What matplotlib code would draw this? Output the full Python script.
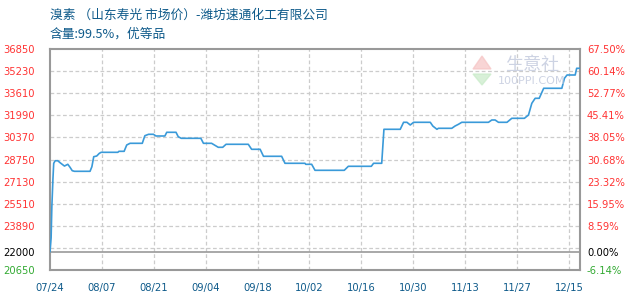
import matplotlib
matplotlib.use("Agg")
import matplotlib.pyplot as plt
from matplotlib.patches import Polygon

plt.rcParams['font.family'] = ['Noto Sans CJK SC', 'DejaVu Sans']

# price series: days since 07/24 and price (yuan/ton)
days = [0, 0.3, 0.5, 0.8, 1.0, 1.4, 2.1, 2.7, 3.9, 4.8, 5.4, 6.0, 6.6, 10.8, 11.3, 11.8,
        12.6, 13.3, 13.8, 18.3, 18.6, 20.0, 20.7, 21.6, 24.9, 25.6, 26.6, 27.9, 28.6, 31.0,
        31.5, 34.0, 34.6, 35.4, 40.7, 41.4, 43.6, 44.5, 45.4, 46.6, 47.5, 53.5, 54.4, 56.7,
        57.6, 62.5, 63.4, 68.8, 69.0, 70.6, 71.5, 79.4, 80.5, 86.7, 87.3, 89.5, 90.1, 94.5,
        95.4, 96.3, 97.2, 98.1, 102.6, 103.3, 104.4, 104.8, 108.4, 109.3, 110.2, 111.1, 118.3,
        119.2, 120.1, 121.0, 123.3, 124.6, 128.0, 129.1, 130.0, 130.9, 132.0, 133.2, 138.1,
        138.8, 139.5, 141.7, 142.1, 143.0]
prices = [22000, 23000, 25300, 27370, 28470, 28660, 28660, 28520, 28270, 28400, 28180, 27930,
          27885, 27885, 28220, 28955, 29006, 29200, 29277, 29277, 29350, 29350, 29813, 29937,
          29937, 30495, 30597, 30597, 30473, 30473, 30744, 30744, 30422, 30304, 30304, 29937,
          29937, 29790, 29645, 29645, 29865, 29865, 29498, 29498, 28985, 28985, 28472, 28472,
          28398, 28398, 27958, 27958, 28252, 28252, 28472, 28472, 30964, 30964, 31477, 31477,
          31280, 31477, 31477, 31200, 30964, 31037, 31037, 31206, 31330, 31477, 31477, 31646,
          31646, 31477, 31477, 31770, 31770, 32012, 32870, 33236, 33236, 33970, 33970, 34700,
          34944, 34944, 35435, 35435]

base = 22000
yticks = [36850, 35230, 33610, 31990, 30370, 28750, 27130, 25510, 23890, 22000, 20650]
ygrid = [35230, 33610, 31990, 30370, 28750, 27130, 25510, 23890, 22270]
pct_labels = ["67.50%", "60.14%", "52.77%", "45.41%", "38.05%", "30.68%", "23.32%",
              "15.95%", "8.59%", "0.00%", "-6.14%"]
xticks = [0, 14, 28, 42, 56, 70, 84, 98, 112, 126, 140]
xlabels = ["07/24", "08/07", "08/21", "09/04", "09/18", "10/02", "10/16", "10/30",
           "11/13", "11/27", "12/15"]

red = "#ff3333"
green = "#33aa33"
blue_txt = "#0e5a8a"

fig = plt.figure(figsize=(6.3, 3.0), dpi=100)
ax = fig.add_axes([50/630, 30/300, 530/630, 221/300])
ax.set_xlim(0, 143)
ax.set_ylim(20650, 36850)

for g in ygrid:
    ax.axhline(g, color="#cccccc", lw=0.9, ls=(0, (3, 2)), zorder=1)
for x in xticks[1:]:
    ax.axvline(x, color="#cccccc", lw=0.9, ls=(0, (3, 2)), zorder=1)
ax.axhline(base, color="#999999", lw=1.2, zorder=2)

ax.plot(days, prices, color="#3a9ad9", lw=1.2, zorder=3)

for s in ax.spines.values():
    s.set_color("#999999")
    s.set_linewidth(1.5)

ax.set_yticks(yticks)
ax.set_yticklabels([str(v) for v in yticks], fontsize=7.2, family="DejaVu Sans")
for lab, v in zip(ax.get_yticklabels(), yticks):
    lab.set_color("black" if v == base else (green if v < base else red))
ax.tick_params(axis="y", length=0, pad=11)

ax2 = ax.twinx()
ax2.set_ylim(ax.get_ylim())
ax2.set_yticks(yticks)
ax2.set_yticklabels(pct_labels, fontsize=7.2, family="DejaVu Sans")
for lab, v in zip(ax2.get_yticklabels(), yticks):
    lab.set_color("black" if v == base else (green if v < base else red))
ax2.tick_params(axis="y", length=0, pad=5)
for s in ax2.spines.values():
    s.set_visible(False)

ax.set_xticks(xticks)
ax.set_xticklabels(xlabels, fontsize=7.2, color=blue_txt, family="DejaVu Sans")
ax.tick_params(axis="x", length=0, pad=9)

# titles
fig.text(50/630, 1 - 15/300, "溴素 （山东寿光 市场价）-潍坊速通化工有限公司",
         fontsize=9.2, color=blue_txt, va="center", ha="left")
fig.text(50/630, 1 - 34/300, "含量:99.5%，优等品",
         fontsize=9.2, color=blue_txt, va="center", ha="left")

# watermark
fig.patches.append(Polygon([[473/630, 1 - 69/300], [482/630, 1 - 56/300], [491/630, 1 - 69/300]],
                           closed=True, transform=fig.transFigure, color="#f6c4c4", alpha=0.7))
fig.patches.append(Polygon([[473/630, 1 - 74/300], [482/630, 1 - 85/300], [491/630, 1 - 74/300]],
                           closed=True, transform=fig.transFigure, color="#c8ebc8", alpha=0.7))
fig.text(532/630, 1 - 65/300, "生意社", fontsize=13, color="#cdd3e3", ha="center", va="center")
fig.text(532/630, 1 - 81/300, "100PPI.COM", fontsize=8, color="#cdd3e3", ha="center", va="center",
         family="DejaVu Sans")

fig.savefig("out.png", dpi=100)
